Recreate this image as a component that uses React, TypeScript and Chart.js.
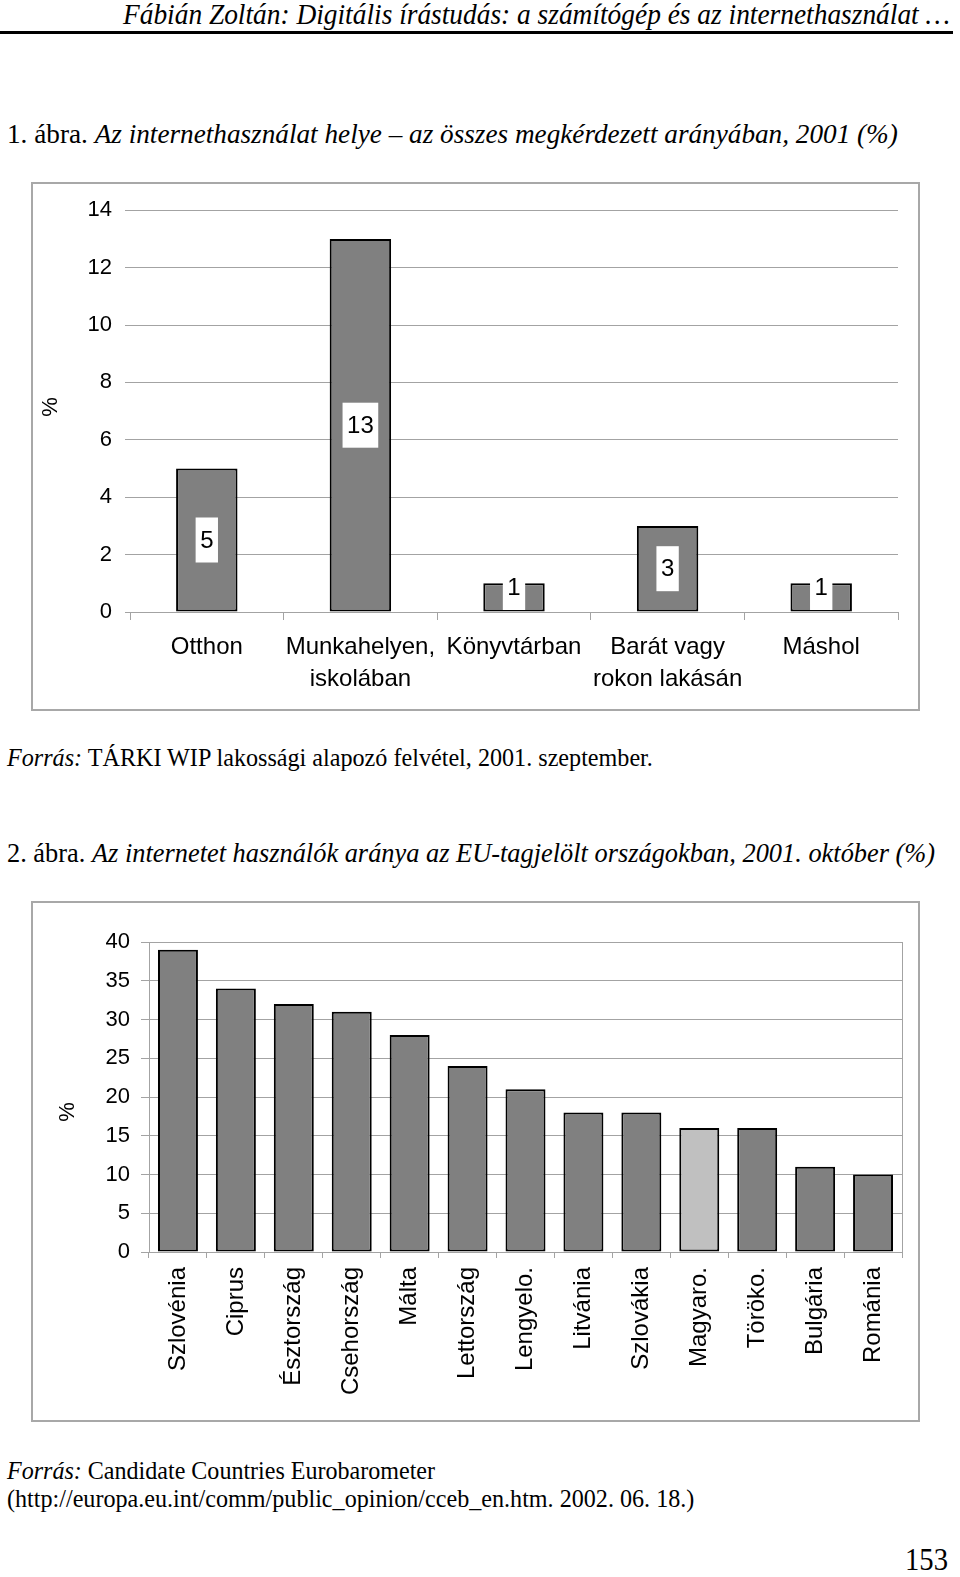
import React, { useEffect, useLayoutEffect, useRef } from 'react';
import { Chart, registerables } from 'chart.js';

Chart.register(...registerables);

// ---------- data ----------
const placeLabels: string[][] = [
  ['Otthon'],
  ['Munkahelyen,', 'iskolában'],
  ['Könyvtárban'],
  ['Barát vagy', 'rokon lakásán'],
  ['Máshol'],
];
const placeValues: number[] = [5, 13, 1, 3, 1];
const placeAxisMax = 14;
const placeAxisStep = 2;

const countryLabels: string[] = [
  'Szlovénia', 'Ciprus', 'Észtország', 'Csehország', 'Málta', 'Lettország',
  'Lengyelo.', 'Litvánia', 'Szlovákia', 'Magyaro.', 'Töröko.', 'Bulgária', 'Románia',
];
const countryValues: number[] = [39, 34, 32, 31, 28, 24, 21, 18, 18, 16, 16, 11, 10];
const highlightedCountry = 'Magyaro.';
const countryAxisMax = 40;
const countryAxisStep = 5;

// ---------- styling ----------
const SANS = '"Liberation Sans", Arial, Helvetica, sans-serif';
const SERIF = '"Liberation Serif", "Times New Roman", Times, serif';
const BAR_FILL = '#808080';
const BAR_HIGHLIGHT = '#c0c0c0';
const GRID = '#a3a3a3';

// white boxed value labels in the middle of each bar
const boxLabelPlugin = {
  id: 'boxLabels',
  afterDatasetsDraw(chart: any, _args: any, opts: any) {
    if (!opts || !opts.display) return;
    const ctx = chart.ctx;
    const meta = chart.getDatasetMeta(0);
    const data = chart.data.datasets[0].data;
    ctx.save();
    ctx.font = opts.font;
    ctx.textAlign = 'center';
    ctx.textBaseline = 'middle';
    meta.data.forEach((bar: any, i: number) => {
      const { x, y, base } = bar.getProps(['x', 'y', 'base'], true);
      const text = String(data[i]);
      const w = ctx.measureText(text).width + opts.padX * 2;
      const h = opts.boxHeight;
      let cy = (y + base) / 2;
      if (cy + h / 2 > base - opts.gap) cy = base - opts.gap - h / 2;
      ctx.fillStyle = '#ffffff';
      ctx.fillRect(x - w / 2, cy - h / 2, w, h);
      ctx.fillStyle = '#000000';
      ctx.fillText(text, x, cy + 1);
    });
    ctx.restore();
  },
};

// rotated axis caption and optional right frame line of the plot
const sideLabelPlugin = {
  id: 'sideLabel',
  afterDraw(chart: any, _args: any, opts: any) {
    if (!opts) return;
    const ctx = chart.ctx;
    const area = chart.chartArea;
    ctx.save();
    if (opts.rightBorder) {
      ctx.strokeStyle = opts.rightBorder;
      ctx.lineWidth = 1;
      ctx.beginPath();
      const rx = Math.round(area.right) + 0.5;
      ctx.moveTo(rx, area.top);
      ctx.lineTo(rx, area.bottom);
      ctx.stroke();
    }
    if (opts.text) {
      ctx.translate(opts.x, opts.y);
      ctx.rotate(-Math.PI / 2);
      ctx.font = opts.font;
      ctx.fillStyle = '#000';
      ctx.textAlign = 'center';
      ctx.textBaseline = 'middle';
      ctx.fillText(opts.text, 0, 0);
    }
    ctx.restore();
  },
};

function placeConfig(): any {
  return {
    type: 'bar',
    data: {
      labels: placeLabels,
      datasets: [
        {
          data: placeValues,
          backgroundColor: BAR_FILL,
          borderColor: '#000',
          borderWidth: 2,
          borderSkipped: false,
          barPercentage: 0.4,
          categoryPercentage: 1,
        },
      ],
    },
    plugins: [boxLabelPlugin, sideLabelPlugin],
    options: {
      responsive: false,
      animation: false,
      layout: { padding: { top: 24, right: 20, left: 0, bottom: 0 } },
      plugins: {
        legend: { display: false },
        tooltip: { enabled: false },
        boxLabels: { display: true, font: `24px ${SANS}`, padX: 4.5, boxHeight: 45, gap: 1.5 },
        sideLabel: { text: '%', x: 17.5, y: 223, font: `22px ${SANS}` },
      },
      scales: {
        x: {
          grid: { offset: true, drawOnChartArea: false, tickLength: 8, color: GRID },
          border: { color: GRID },
          ticks: {
            color: '#000',
            font: { family: SANS, size: 24, lineHeight: 1.333 },
            padding: 11,
            maxRotation: 0,
            autoSkip: false,
          },
          afterFit: (s: any) => { s.height = 97; },
        },
        y: {
          min: 0,
          max: placeAxisMax,
          ticks: { stepSize: placeAxisStep, color: '#000', font: { family: SANS, size: 22 }, padding: 13 },
          grid: { color: GRID, tickLength: 5 },
          border: { display: false },
          afterFit: (s: any) => { s.width = 97; },
        },
      },
    },
  };
}

function countryConfig(): any {
  return {
    type: 'bar',
    data: {
      labels: countryLabels,
      datasets: [
        {
          data: countryValues,
          backgroundColor: countryLabels.map((c) => (c === highlightedCountry ? BAR_HIGHLIGHT : BAR_FILL)),
          borderColor: '#000',
          borderWidth: 2,
          borderSkipped: false,
          barPercentage: 0.69,
          categoryPercentage: 1,
        },
      ],
    },
    plugins: [sideLabelPlugin],
    options: {
      responsive: false,
      animation: false,
      layout: { padding: { top: 39, right: 16, left: 0, bottom: 0 } },
      plugins: {
        legend: { display: false },
        tooltip: { enabled: false },
        sideLabel: { text: '%', x: 35, y: 209, font: `22px ${SANS}`, rightBorder: GRID },
      },
      scales: {
        x: {
          grid: { offset: true, drawOnChartArea: false, tickLength: 6, color: GRID },
          border: { color: GRID },
          ticks: {
            color: '#000',
            font: { family: SANS, size: 24 },
            padding: 9,
            minRotation: 90,
            maxRotation: 90,
            autoSkip: false,
          },
          afterFit: (s: any) => { s.height = 168; },
        },
        y: {
          min: 0,
          max: countryAxisMax,
          ticks: { stepSize: countryAxisStep, color: '#000', font: { family: SANS, size: 22 }, padding: 11 },
          grid: { color: GRID, tickLength: 8 },
          border: { display: true, color: GRID },
          afterFit: (s: any) => { s.width = 116; },
        },
      },
    },
  };
}

function ChartCanvas(props: { left: number; top: number; width: number; height: number; make: () => any }) {
  const ref = useRef<HTMLCanvasElement>(null);
  useEffect(() => {
    const chart = new Chart(ref.current as HTMLCanvasElement, props.make());
    return () => chart.destroy();
  }, []);
  return (
    <canvas
      ref={ref}
      width={props.width}
      height={props.height}
      style={{ position: 'absolute', left: props.left, top: props.top, width: props.width, height: props.height }}
    />
  );
}

function FitLine(props: { x: number; cy: number; w: number; size: number; italic?: boolean; children: React.ReactNode }) {
  const ref = useRef<HTMLDivElement>(null);
  useLayoutEffect(() => {
    const el = ref.current;
    if (!el) return;
    const fit = () => {
      const nat = el.offsetWidth;
      if (nat > 0) el.style.transform = `scaleX(${props.w / nat})`;
    };
    fit();
    const fonts: any = (document as any).fonts;
    if (fonts && fonts.ready) fonts.ready.then(fit);
  }, []);
  return (
    <div
      ref={ref}
      style={{
        position: 'absolute',
        left: props.x,
        top: props.cy - props.size / 2,
        fontSize: props.size,
        lineHeight: `${props.size}px`,
        whiteSpace: 'nowrap',
        fontFamily: SERIF,
        fontStyle: props.italic ? 'italic' : 'normal',
        transformOrigin: 'left center',
        color: '#000',
      }}
    >
      {props.children}
    </div>
  );
}

const frame: React.CSSProperties = {
  position: 'absolute',
  border: '2px solid #a8a8a8',
  boxSizing: 'border-box',
  background: '#fff',
};

export default function App() {
  return (
    <div style={{ position: 'absolute', left: 0, top: 0, width: 960, height: 1577, background: '#fff', overflow: 'hidden' }}>
      <FitLine x={123} cy={14} w={827} size={30} italic>
        Fábián Zoltán: Digitális írástudás: a számítógép és az internethasználat …
      </FitLine>
      <div style={{ position: 'absolute', left: 0, top: 31, width: 953, height: 3, background: '#000' }} />

      <FitLine x={7} cy={134} w={891} size={27}>
        <span>1. ábra. </span>
        <i>Az internethasználat helye – az összes megkérdezett arányában, 2001 (%)</i>
      </FitLine>

      <div style={{ ...frame, left: 31, top: 182, width: 889, height: 529 }} />
      <ChartCanvas left={33} top={184} width={885} height={525} make={placeConfig} />

      <FitLine x={7} cy={757} w={646} size={25}>
        <i>Forrás:</i> TÁRKI WIP lakossági alapozó felvétel, 2001. szeptember.
      </FitLine>

      <FitLine x={7} cy={853} w={928} size={27}>
        <span>2. ábra. </span>
        <i>Az internetet használók aránya az EU-tagjelölt országokban, 2001. október (%)</i>
      </FitLine>

      <div style={{ ...frame, left: 31, top: 901, width: 889, height: 521 }} />
      <ChartCanvas left={33} top={903} width={885} height={517} make={countryConfig} />

      <FitLine x={7} cy={1470} w={428} size={25}>
        <i>Forrás:</i> Candidate Countries Eurobarometer
      </FitLine>
      <FitLine x={7} cy={1498} w={687} size={25}>
        (http://europa.eu.int/comm/public_opinion/cceb_en.htm. 2002. 06. 18.)
      </FitLine>

      <FitLine x={905} cy={1559} w={43} size={32}>
        153
      </FitLine>
    </div>
  );
}
